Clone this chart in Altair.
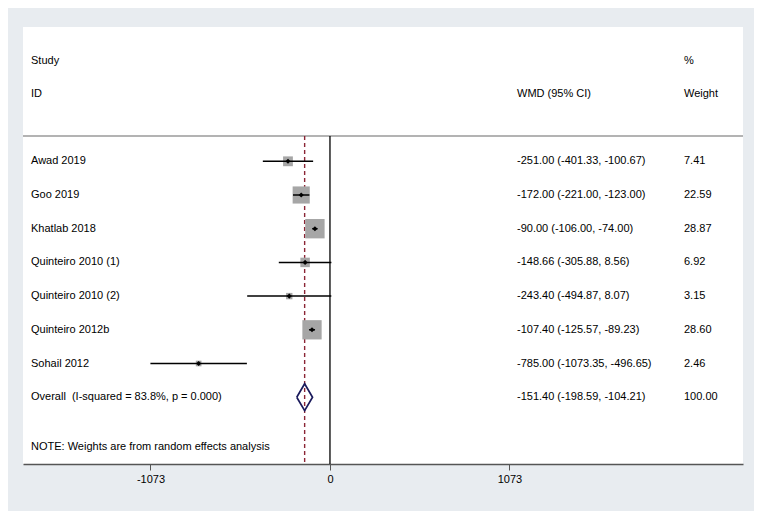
import altair as alt
import pandas as pd

studies = ["Awad 2019", "Goo 2019", "Khatlab 2018", "Quinteiro 2010 (1)",
           "Quinteiro 2010 (2)", "Quinteiro 2012b", "Sohail 2012"]
wmd = [-251.00, -172.00, -90.00, -148.66, -243.40, -107.40, -785.00]
lower = [-401.33, -221.00, -106.00, -305.88, -494.87, -125.57, -1073.35]
upper = [-100.67, -123.00, -74.00, 8.56, 8.07, -89.23, -496.65]
weights = [7.41, 22.59, 28.87, 6.92, 3.15, 28.60, 2.46]

overall_label = "Overall \u00a0(I-squared = 83.8%, p = 0.000)"
overall_wmd = -151.40
overall_lower = -198.59
overall_upper = -104.21
overall_weight = 100.00
note = "NOTE: Weights are from random effects analysis"
tick_values = [-1073, 0, 1073]

FONT = "Liberation Sans"
W, H = 720, 437

df = pd.DataFrame({
    "study": studies, "wmd": wmd, "lower": lower, "upper": upper,
    "weight": weights, "row": list(range(1, len(studies) + 1)),
})
df["ci"] = [f"{w:.2f} ({l:.2f}, {u:.2f})" for w, l, u in zip(wmd, lower, upper)]
df["wt"] = [f"{w:.2f}" for w in weights]

orow = len(studies) + 1
ov = pd.DataFrame({
    "study": [overall_label], "row": [orow],
    "ci": [f"{overall_wmd:.2f} ({overall_lower:.2f}, {overall_upper:.2f})"],
    "wt": [f"{overall_weight:.2f}"],
})
labels = pd.concat([df[["study", "row", "ci", "wt"]], ov], ignore_index=True)

half = 0.4
diamond = pd.DataFrame({
    "x": [overall_lower, overall_wmd, overall_upper, overall_wmd, overall_lower],
    "y": [orow, orow - half, orow, orow + half, orow],
    "o": [0, 1, 2, 3, 4],
})

xs = alt.Scale(domain=[-1835, 2469], nice=False, zero=False)
ys = alt.Scale(domain=[-2.985, 9.982], reverse=True, nice=False, zero=False)
xax = alt.Axis(values=tick_values, title=None, grid=False, domainColor="#555555",
               domainWidth=1.5, tickColor="#555555", tickWidth=1, tickSize=6,
               labelFont=FONT, labelFontSize=11, labelColor="black", labelPadding=3,
               labelExpr="'' + datum.value")

base = alt.Chart(df)

sep = alt.Chart(pd.DataFrame({"a": [0]})).mark_rule(color="#9a9a9a", strokeWidth=1.5).encode(
    x=alt.value(0), x2=alt.value(W), y=alt.value(109))

zero = alt.Chart(pd.DataFrame({"x": [0]})).mark_rule(color="black", strokeWidth=1.3).encode(
    x=alt.X("x:Q", scale=xs, axis=xax), y=alt.value(109), y2=alt.value(H))

dash = alt.Chart(pd.DataFrame({"x": [overall_wmd]})).mark_rule(
    color="#8b2535", strokeWidth=1.4, strokeDash=[4, 3]).encode(
    x=alt.X("x:Q", scale=xs, axis=xax), y=alt.value(109), y2=alt.value(H))

squares = base.mark_square(color="#a6a6a6", opacity=1).encode(
    x=alt.X("wmd:Q", scale=xs, axis=xax),
    y=alt.Y("row:Q", scale=ys, axis=None),
    size=alt.Size("weight:Q", scale=alt.Scale(domain=[0, 100], range=[0, 1300]), legend=None))

ci = base.mark_rule(color="black", strokeWidth=1.5).encode(
    x=alt.X("lower:Q", scale=xs, axis=xax), x2="upper:Q",
    y=alt.Y("row:Q", scale=ys, axis=None))

pts = base.mark_point(shape="diamond", filled=True, color="black", size=26, opacity=1).encode(
    x=alt.X("wmd:Q", scale=xs, axis=xax), y=alt.Y("row:Q", scale=ys, axis=None))

dia = alt.Chart(diamond).mark_line(color="#1a1a5c", strokeWidth=1.7).encode(
    x=alt.X("x:Q", scale=xs, axis=xax), y=alt.Y("y:Q", scale=ys, axis=None), order="o:Q")

tl = alt.Chart(labels)
tprops = dict(font=FONT, fontSize=11, color="black", baseline="middle", align="left")
t_study = tl.mark_text(**tprops).encode(x=alt.value(8), y=alt.Y("row:Q", scale=ys, axis=None), text="study:N")
t_ci = tl.mark_text(**tprops).encode(x=alt.value(494), y=alt.Y("row:Q", scale=ys, axis=None), text="ci:N")
t_wt = tl.mark_text(**tprops).encode(x=alt.value(661), y=alt.Y("row:Q", scale=ys, axis=None), text="wt:N")

hdr = pd.DataFrame({
    "t": ["Study", "ID", "WMD (95% CI)", "%", "Weight", note],
    "px": [8, 8, 494, 661, 661, 8],
    "py": [34, 67, 67, 34, 67, 420],
})
headers = alt.Chart(hdr).mark_text(**tprops).encode(
    x=alt.X("px:Q", scale=None), y=alt.Y("py:Q", scale=None), text="t:N")

chart = alt.layer(sep, dash, zero, squares, ci, pts, dia, t_study, t_ci, t_wt, headers).properties(
    width=W, height=H,
    autosize=alt.AutoSizeParams(type="none"),
    padding={"left": 15, "top": 19, "right": 11, "bottom": 47},
    background="#e8ecf0",
).configure_view(stroke=None, fill="white")

chart.save("out.html", embed_options={"renderer": "svg", "actions": False})
